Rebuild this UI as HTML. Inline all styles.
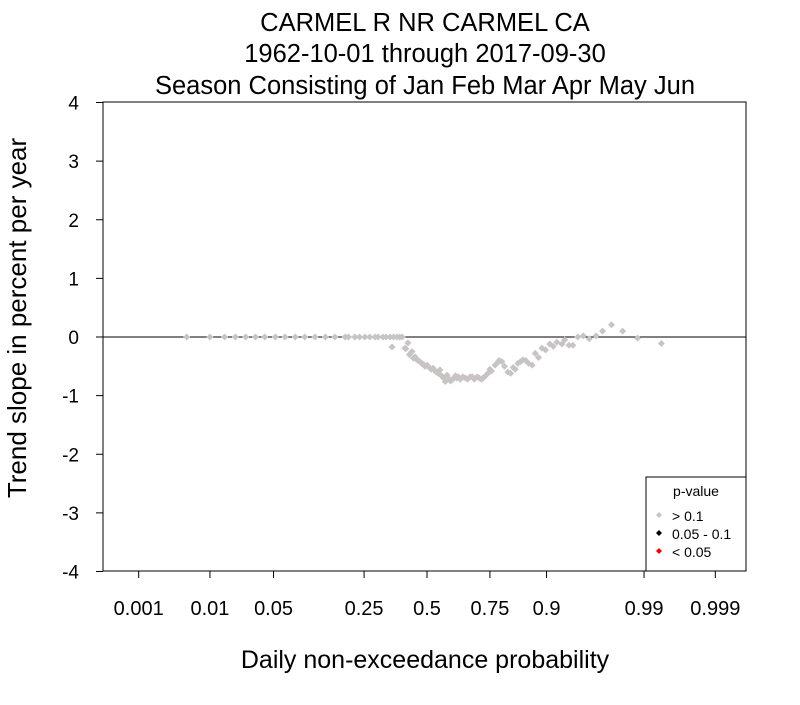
<!DOCTYPE html>
<html><head><meta charset="utf-8"><style>
body{margin:0;background:#fff}
text{font-family:"Liberation Sans",sans-serif}
</style></head><body>
<svg id="chart" width="800" height="700" xmlns="http://www.w3.org/2000/svg">
<rect width="800" height="700" fill="#fff"/>
<g font-size="25.5" text-anchor="middle" fill="#000">
<text x="425" y="31">CARMEL R NR CARMEL CA</text>
<text x="425" y="62">1962-10-01 through 2017-09-30</text>
<text x="425" y="94">Season Consisting of Jan Feb Mar Apr May Jun</text>
</g>
<rect x="103" y="102" width="643" height="469" fill="none" stroke="#000" stroke-width="1"/>
<g id="yaxis"></g>
<g id="xaxis"></g>
<text transform="translate(26,318) rotate(-90)" font-size="26" text-anchor="middle">Trend slope in percent per year</text>
<text x="425" y="668" font-size="25" text-anchor="middle">Daily non-exceedance probability</text>
<line x1="103" x2="746" y1="337" y2="337" stroke="#000" stroke-width="1"/>
<g id="points"></g>
<g>
<rect x="646" y="477" width="100" height="94" fill="#fff" stroke="#000"/>
<text x="696" y="496" font-size="14" text-anchor="middle">p-value</text>
<path d="M659 512l3 3-3 3-3-3z" fill="#c8c4c4"/><text x="672" y="521" font-size="14">&gt; 0.1</text>
<path d="M659 530l3 3-3 3-3-3z" fill="#000"/><text x="672" y="539" font-size="14">0.05 - 0.1</text>
<path d="M659 548l3 3-3 3-3-3z" fill="#f00"/><text x="672" y="557" font-size="14">&lt; 0.05</text>
</g>
</svg>
<script>
const yTicks=[4,3,2,1,0,-1,-2,-3,-4];
const xTicks=[0.001,0.01,0.05,0.25,0.5,0.75,0.9,0.99,0.999];
const xTickLabels=["0.001","0.01","0.05","0.25","0.5","0.75","0.9","0.99","0.999"];
const probs=[0.005,0.01,0.015,0.02,0.026,0.033,0.041,0.052,0.064,0.079,0.095,0.115,0.138,0.162,0.19,0.22,0.253,0.289,0.318,0.346,0.374,
0.2,0.235,0.27,0.3,0.33,0.36,0.385,0.395,
0.354,0.407,0.419,0.436,0.449,0.47,0.5,0.526,0.555,0.585,0.606,0.626,0.65,0.678,0.704,0.726,0.743,0.767,0.789,0.807,0.822,0.835,0.848,0.87,0.877,0.891,0.906,0.918,0.926,0.93,0.936,0.941,0.947,0.953,0.959,0.965,0.97,0.976,0.982,0.988,0.994,
0.41,0.425,0.442,0.455,0.462,0.477,0.485,0.492,0.51,0.518,0.534,0.54,0.548,0.562,0.57,0.578,0.595,0.6,0.615,0.62,0.632,0.64,0.66,0.668,0.686,0.694,0.712,0.72,0.735,0.75,0.755,0.775,0.78,0.797,0.815,0.828,0.842,0.855,0.862,0.884,0.898,0.912];
const slopes=[0,0,0,0,0,0,0,0,0,0,0,0,0,0,0,0,0,0,0,0,0,
0,0,0,0,0,0,0,0,
-0.17,-0.19,-0.1,-0.25,-0.34,-0.42,-0.48,-0.53,-0.56,-0.65,-0.73,-0.7,-0.68,-0.68,-0.68,-0.7,-0.62,-0.48,-0.42,-0.6,-0.52,-0.45,-0.39,-0.48,-0.28,-0.19,-0.12,-0.09,-0.12,-0.05,-0.14,-0.14,0,0.02,-0.03,0.02,0.1,0.21,0.1,-0.02,-0.11,
-0.2,-0.3,-0.36,-0.38,-0.4,-0.45,-0.47,-0.5,-0.52,-0.55,-0.58,-0.6,-0.62,-0.66,-0.7,-0.76,-0.72,-0.75,-0.7,-0.66,-0.68,-0.72,-0.7,-0.72,-0.68,-0.72,-0.7,-0.72,-0.66,-0.55,-0.58,-0.44,-0.4,-0.5,-0.62,-0.55,-0.42,-0.4,-0.45,-0.35,-0.22,-0.16];
function qnorm(p){const a=[-39.69683028665376,220.9460984245205,-275.9285104469687,138.357751867269,-30.66479806614716,2.506628277459239],b=[-54.47609879822406,161.5858368580409,-155.6989798598866,66.80131188771972,-13.28068155288572],c=[-0.007784894002430293,-0.3223964580411365,-2.400758277161838,-2.549732539343734,4.374664141464968,2.938163982698783],d=[0.007784695709041462,0.3224671290700398,2.445134137142996,3.754408661907416];let q,r;
if(p<0.02425){q=Math.sqrt(-2*Math.log(p));return(((((c[0]*q+c[1])*q+c[2])*q+c[3])*q+c[4])*q+c[5])/((((d[0]*q+d[1])*q+d[2])*q+d[3])*q+1);}
if(p>1-0.02425){q=Math.sqrt(-2*Math.log(1-p));return-(((((c[0]*q+c[1])*q+c[2])*q+c[3])*q+c[4])*q+c[5])/((((d[0]*q+d[1])*q+d[2])*q+d[3])*q+1);}
q=p-0.5;r=q*q;return(((((a[0]*r+a[1])*r+a[2])*r+a[3])*r+a[4])*r+a[5])*q/(((((b[0]*r+b[1])*r+b[2])*r+b[3])*r+b[4])*r+1);}
const X=p=>427+93.3*qnorm(p);
const Y=v=>337-v*58.625;
const NS="http://www.w3.org/2000/svg";
function mk(t,at,parent){const e=document.createElementNS(NS,t);for(const k in at)e.setAttribute(k,at[k]);parent.appendChild(e);return e;}
const ya=document.getElementById('yaxis');
yTicks.forEach(v=>{const l=mk('line',{x1:96,x2:103,y1:Y(v),y2:Y(v),stroke:'#000'},ya);


const t=mk('text',{x:79,y:Y(v)+7,'font-size':19,'text-anchor':'end'},ya);t.textContent=v;

});
const xa=document.getElementById('xaxis');
xTicks.forEach((p,i)=>{const l=mk('line',{x1:X(p),x2:X(p),y1:571,y2:578,stroke:'#000'},xa);


const t=mk('text',{x:X(p),y:615,'font-size':20,'text-anchor':'middle'},xa);t.textContent=xTickLabels[i];

});
const pg=document.getElementById('points');
probs.forEach((p,i)=>{const x=X(p),y=Y(slopes[i]);
const e=mk('path',{d:`M${x} ${y-3.5}l3.5 3.5-3.5 3.5-3.5-3.5z`,fill:'#c8c4c4'},pg);

});
</script>
</body></html>
